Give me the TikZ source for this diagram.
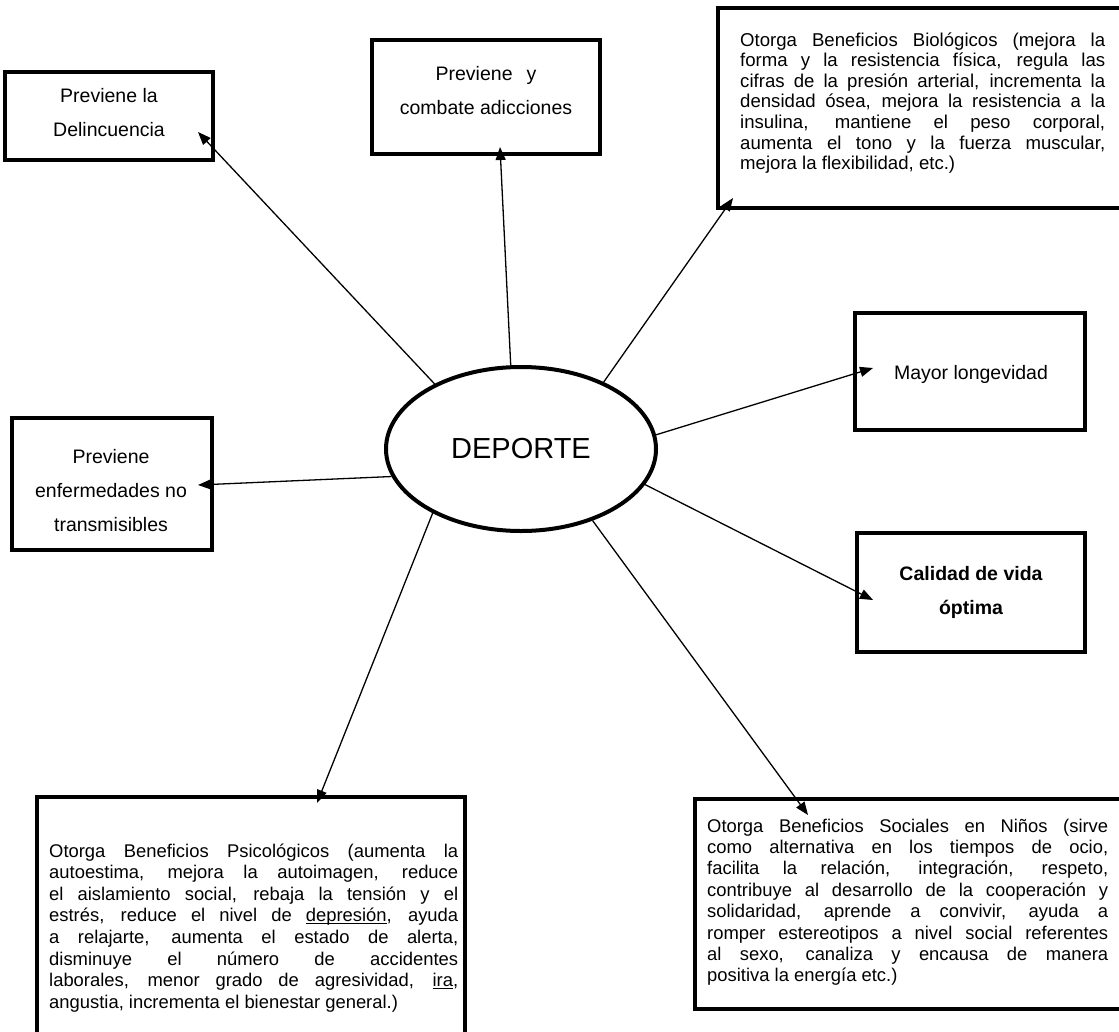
\documentclass[tikz,border=0pt]{standalone}
\usepackage{fontspec}
\setmainfont{Liberation Sans}
\usetikzlibrary{arrows.meta,shapes.geometric}
\newcommand\jl[1]{\leavevmode\makebox[\hsize][s]{#1}\par}
\newcommand\lastline[1]{\leavevmode#1\par}
\newcommand\undl[1]{\setbox0\hbox{#1}\rlap{\rule[-2.6pt]{\wd0}{1.1pt}}\box0}
\newcommand\jbox[2]{\vtop{\hsize=#1\parindent=0pt\parskip=0pt #2}}
\newcommand\cbox[2]{\vtop{\hsize=#1\parindent=0pt\parskip=0pt\centering #2\par}}
\begin{document}
\begin{tikzpicture}[x=1pt,y=-1pt,
  bx/.style={draw, line width=4.5pt, rectangle, inner sep=0pt},
  small/.style={inner sep=0pt, anchor=base, font=\fontsize{19.5}{34}\selectfont},
  big/.style={inner sep=0pt, anchor=base west, font=\fontsize{18.6}{21.5}\selectfont},
  arr/.style={line width=1.3pt, -{Triangle[length=13pt,width=10pt]}}]
\useasboundingbox (0,0) rectangle (1119,1031);
\clip (0,0) rectangle (1119,1031);
\fill[white] (0,0) rectangle (1119,1031);

% boxes
\node[bx, minimum width=208pt, minimum height=88pt] (delin) at (109,116) {};
\node[bx, minimum width=228pt, minimum height=114pt] (adic) at (486,97) {};
\node[bx, minimum width=420pt, minimum height=200pt] (bio) at (928,108) {};
\node[bx, minimum width=230pt, minimum height=117pt] (longe) at (970,371.5) {};
\node[bx, minimum width=200pt, minimum height=132pt] (enf) at (112,484) {};
\node[bx, minimum width=228pt, minimum height=119pt] (cal) at (971,592.5) {};
\node[bx, minimum width=428pt, minimum height=260pt] (psi) at (251,927) {};
\node[bx, minimum width=435pt, minimum height=210pt] (soc) at (912.5,904) {};

% ellipse
\node[ellipse, draw, line width=4pt, minimum width=270pt, minimum height=164pt, inner sep=0pt,
      font=\fontsize{29}{34}\selectfont] (dep) at (521,449) {DEPORTE};

% small texts
\node[small] (tdelin) at (109,102) {\cbox{200pt}{Previene la\\Delincuencia}};
\node[small] (tadic) at (486,80) {\cbox{220pt}{Previene\hspace{14pt}y\\combate adicciones}};
\node[small] (tlonge) at (971,379) {\cbox{220pt}{Mayor longevidad}};
\node[small] (tenf) at (111,463) {\cbox{195pt}{Previene\\enfermedades no\\transmisibles}};
\node[small] (tcal) at (971,580) {\cbox{220pt}{\bfseries Calidad de vida\\óptima}};

% big texts
\node[big, font=\fontsize{18.6}{20.6}\selectfont] (tbio) at (740,46) {\jbox{365pt}{%
\jl{Otorga Beneficios Biológicos (mejora la}
\jl{forma y la resistencia física, regula las}
\jl{cifras de la presión arterial, incrementa la}
\jl{densidad ósea, mejora la resistencia a la}
\jl{insulina, mantiene el peso corporal,}
\jl{aumenta el tono y la fuerza muscular,}
\lastline{mejora la flexibilidad, etc.)}}};

\node[big, font=\fontsize{18.4}{21.6}\selectfont] (tpsi) at (49,857) {\jbox{409pt}{%
\jl{Otorga Beneficios Psicológicos (aumenta la}
\jl{autoestima, mejora la autoimagen, reduce}
\jl{el aislamiento social, rebaja la tensión y el}
\jl{estrés, reduce el nivel de \undl{depresión}, ayuda}
\jl{a relajarte, aumenta el estado de alerta,}
\jl{disminuye el número de accidentes}
\jl{laborales, menor grado de agresividad, \undl{ira},}
\lastline{angustia, incrementa el bienestar general.)}}};

\node[big, font=\fontsize{18.4}{21.4}\selectfont] (tsoc) at (707,832) {\jbox{401pt}{%
\jl{Otorga Beneficios Sociales en Niños (sirve}
\jl{como alternativa en los tiempos de ocio,}
\jl{facilita la relación, integración, respeto,}
\jl{contribuye al desarrollo de la cooperación y}
\jl{solidaridad, aprende a convivir, ayuda a}
\jl{romper estereotipos a nivel social referentes}
\jl{al sexo, canaliza y encausa de manera}
\lastline{positiva la energía etc.)}}};

% arrow tips
\coordinate (t1) at (198,132);
\coordinate (t2) at (500,147);
\coordinate (t3) at (733,198);
\coordinate (t4) at (873,368);
\coordinate (t5) at (873,600);
\coordinate (t6) at (808,815);
\coordinate (t7) at (317,803);
\coordinate (t8) at (198,485);

\draw[arr] (dep.143.8) -- (t1);
\draw[arr] (dep.97.5) -- (t2);
\draw[arr] (dep.39.4) -- (t3);
\draw[arr] (dep.6.7) -- (t4);
\draw[arr] (dep.-16.4) -- (t5);
\draw[arr] (dep.-45.4) -- (t6);
\draw[arr] (dep.216.2) -- (t7);
\draw[arr] (dep.192.2) -- (t8);
\end{tikzpicture}
\end{document}
